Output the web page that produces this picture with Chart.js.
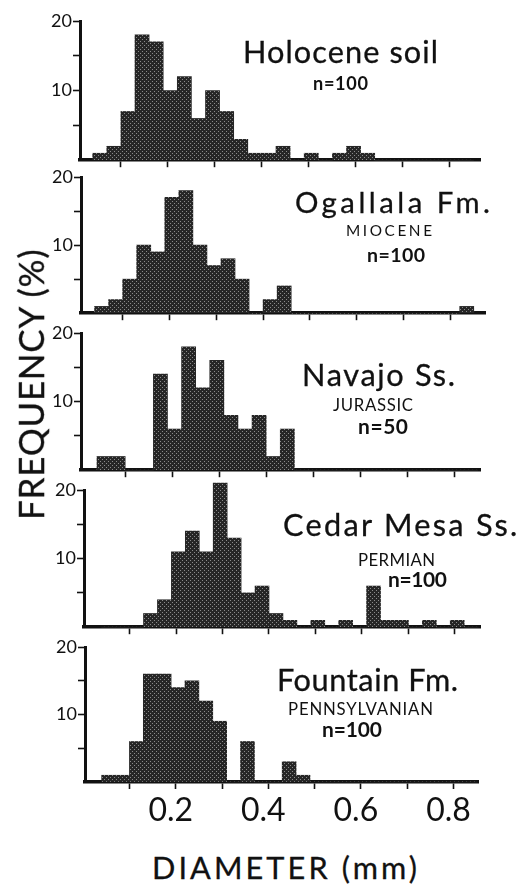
<!DOCTYPE html>
<html><head><meta charset="utf-8">
<script src="https://cdn.jsdelivr.net/npm/chart.js@4"></script>
<style>
html,body{margin:0;padding:0;background:#fff;}
body{width:522px;height:892px;position:relative;overflow:hidden;font-family:Lato, sans-serif;}
canvas{position:absolute;left:0;}
.t{position:absolute;white-space:nowrap;color:#111;margin:0;padding:0;}
.heavy{-webkit-text-stroke:0.3px #111;}
</style></head><body>
<script>
// ---- data ----
const BIN_CENTERS = [0.055,0.085,0.115,0.145,0.175,0.205,0.235,0.265,0.295,0.325,0.355,0.385,0.415,0.445,0.475,0.505,0.535,0.565,0.595,0.625,0.655,0.685,0.715,0.745,0.775,0.805,0.835];
const HOLOCENE   = [1,2,7,18,17,10,12,6,10,7,3,1,1,2,0,1,0,1,2,1,0,0,0,0,0,0,0];
const OGALLALA   = [1,2,5,10,9,17,18,10,7,8,5,0,2,4,0,0,0,0,0,0,0,0,0,0,0,0,1];
const NAVAJO     = [2,2,0,0,14,6,18,12,16,8,6,8,2,6,0,0,0,0,0,0,0,0,0,0,0,0,0];
const CEDAR_MESA = [0,0,0,2,4,11,14,11,21,13,5,6,2,1,0,1,0,1,0,6,1,1,0,1,0,1,0];
const FOUNTAIN   = [1,1,6,16,16,14,15,12,9,0,6,0,0,3,1,0,0,0,0,0,0,0,0,0,0,0,0];
const X_TICKS = [0.1,0.2,0.3,0.4,0.5,0.6,0.7,0.8];
const X_TICK_LABELS = ['','0.2','','0.4','','0.6','','0.8'];
const Y_TICKS = [0,5,10,15,20];
const Y_TICK_LABELS = ['','','10','','20'];
const PANEL_NAMES = ['Holocene soil','Ogallala Fm.','Navajo Ss.','Cedar Mesa Ss.','Fountain Fm.'];
const PANEL_AGES  = ['','MIOCENE','JURASSIC','PERMIAN','PENNSYLVANIAN'];
const PANEL_N     = ['n=100','n=100','n=50','n=100','n=100'];
const SERIES = [HOLOCENE, OGALLALA, NAVAJO, CEDAR_MESA, FOUNTAIN];
const Y_TITLE = 'FREQUENCY (%)';
const X_TITLE = 'DIAMETER (mm)';

// ---- layout (pixels) ----
const INK = '#111';
const LAYOUT = [
  {left:80, right:480, top:21,  base:162, xmin:0.013, xmax:0.864},
  {left:81, right:485, top:177, base:315, xmin:0.011, xmax:0.874},
  {left:81, right:480, top:333, base:472, xmin:0.006, xmax:0.855},
  {left:84, right:480, top:490, base:629, xmin:0.002, xmax:0.854},
  {left:85, right:478, top:647, base:782, xmin:0.004, xmax:0.853}
];
// [x0, x1, baselineY, capHeight]
const TEXT_POS = [
  {name:[243,438,64,22], age:null,            n:[313,368,90,13]},
  {name:[295,490,213,21], age:[346,432,237,11], n:[367,425,262,14]},
  {name:[302,455,387,22], age:[333,413,412,12], n:[358,408,435,15]},
  {name:[283,518,537,22], age:[358,435,567,12], n:[388,447,588,15]},
  {name:[277,458,692,22], age:[288,433,716,12], n:[322,382,738,15]}
];

function makePattern(){
  const c = document.createElement('canvas'); c.width = 4; c.height = 4;
  const g = c.getContext('2d');
  g.fillStyle = '#262626'; g.fillRect(0,0,4,4);
  g.fillStyle = '#8a8a8a'; g.fillRect(0,0,1,1); g.fillRect(2,2,1,1);
  return g.createPattern(c, 'repeat');
}
const pattern = makePattern();

const mctx = document.createElement('canvas').getContext('2d');
function placeText(str, x0, x1, baseY, cap, weight, heavy, rotate){
  const size = cap / 0.7165;
  const font = weight + ' ' + size.toFixed(2) + 'px Lato';
  mctx.font = font;
  const m = mctx.measureText(str);
  const n = [...str].length;
  const len = rotate ? x1 : (x1 - x0);
  const ls = n > 1 ? (len - m.width) / (n - 1) : 0;
  const asc = m.fontBoundingBoxAscent, desc = m.fontBoundingBoxDescent;
  const baseOff = (size - (asc + desc)) / 2 + asc;
  const d = document.createElement('div');
  d.className = heavy ? 't heavy' : 't';
  d.textContent = str;
  d.style.font = font;
  d.style.lineHeight = size + 'px';
  d.style.letterSpacing = ls + 'px';
  d.style.left = x0 + 'px';
  d.style.top = (baseY - baseOff) + 'px';
  if (rotate){
    d.style.transformOrigin = '0px ' + baseOff + 'px';
    d.style.transform = 'rotate(-90deg)';
  }
  document.body.appendChild(d);
}

LAYOUT.forEach((L, i) => {
  const isLast = i === LAYOUT.length - 1;
  const PADT = 16;
  const XH = isLast ? 52 : 10;
  const cv = document.createElement('canvas');
  const h = (L.base - L.top) + PADT + XH;
  cv.width = 522; cv.height = h;
  cv.style.top = (L.top - PADT) + 'px';
  document.body.appendChild(cv);
  new Chart(cv, {
    type: 'bar',
    data: { datasets: [{
      data: BIN_CENTERS.map((x, k) => ({x: x, y: SERIES[i][k]})),
      backgroundColor: pattern, borderWidth: 0,
      barPercentage: 1, categoryPercentage: 1, clip: false
    }]},
    options: {
      responsive: false, animation: false, devicePixelRatio: 1,
      layout: {padding: {top: PADT, right: 522 - L.right, left: 0, bottom: 0}},
      plugins: {legend: {display: false}, tooltip: {enabled: false}},
      scales: {
        x: {
          type: 'linear', min: L.xmin, max: L.xmax, offset: false, z: 1,
          afterBuildTicks: s => { s.ticks = X_TICKS.map(v => ({value: v})); },
          afterFit: s => { s.height = XH; },
          grid: {offset: false, drawOnChartArea: false, drawTicks: true, tickLength: 7, tickWidth: 1.6, color: INK, tickColor: INK},
          border: {display: true, color: INK, width: 3.5},
          ticks: {display: isLast, autoSkip: false, maxRotation: 0, padding: 2, labelOffset: -5, color: INK,
                  font: {family: 'Lato', size: 32}, callback: (v, idx) => X_TICK_LABELS[idx]}
        },
        y: {
          type: 'linear', min: 0, max: 20, z: 1,
          afterBuildTicks: s => { s.ticks = Y_TICKS.map(v => ({value: v})); },
          afterFit: s => { s.width = L.left; },
          grid: {drawOnChartArea: false, tickLength: 7, tickWidth: 1.6, color: INK,
                 tickColor: c => (c.tick && c.tick.value === 0) ? 'rgba(0,0,0,0)' : INK},
          border: {display: true, color: INK, width: 3},
          ticks: {autoSkip: false, padding: 1, color: INK, font: {family: 'Lato', size: 18},
                  callback: (v, idx) => Y_TICK_LABELS[idx]}
        }
      }
    }
  });
  const T = TEXT_POS[i];
  placeText(PANEL_NAMES[i], T.name[0], T.name[1], T.name[2], T.name[3], 400, true);
  if (T.age && PANEL_AGES[i]) placeText(PANEL_AGES[i], T.age[0], T.age[1], T.age[2], T.age[3], 400, false);
  placeText(PANEL_N[i], T.n[0], T.n[1], T.n[2], T.n[3], 700, false);
});

placeText(Y_TITLE, 45, 272, 520, 25, 400, true, true);
placeText(X_TITLE, 152, 417, 880, 22, 400, true);
</script>
</body></html>
